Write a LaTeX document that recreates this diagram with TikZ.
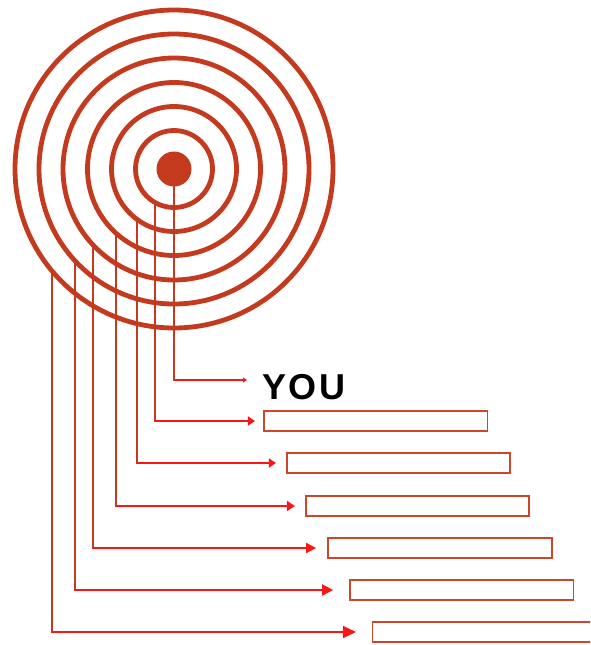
\documentclass[tikz,border=0pt]{standalone}
\usepackage{fontspec}
\setmainfont{Liberation Sans}
\usetikzlibrary{arrows.meta}
\definecolor{ringc}{RGB}{196,58,30}
\definecolor{arrc}{RGB}{248,22,22}
\definecolor{boxc}{RGB}{204,70,46}
\begin{document}
\begin{tikzpicture}[x=1pt,y=-1pt,
  ring/.style={circle,draw=ringc,line width=4.8pt,inner sep=0pt,outer sep=0pt,minimum size=#1},
  vline/.style={draw=ringc,line width=2.3pt,line cap=rect},
  harrow/.style 2 args={draw=arrc,line width=1.6pt,-{Triangle[length=#1pt,width=#2pt]}},
  blank/.style={rectangle,draw=boxc,line width=1.6pt,inner sep=0pt,minimum width=223.5pt,minimum height=19.5pt}]
\clip (0,0) rectangle (590,645);
% target rings
\node[ring=77pt]  (r1) at (174,169) {};
\node[ring=125pt] (r2) at (174,169) {};
\node[ring=173pt] (r3) at (174,169) {};
\node[ring=222pt] (r4) at (174,169) {};
\node[ring=270pt] (r5) at (174,169) {};
\node[ring=318pt] (r6) at (174,169) {};
\node[circle,fill=ringc,inner sep=0pt,outer sep=0pt,minimum size=35pt] (dot) at (174,169) {};
% label and boxes
\node[anchor=base west,inner sep=0pt,font=\bfseries\fontsize{36}{36}\selectfont] (you) at (262,399.5) {Y\kern2.5pt O\kern2.5pt U};
\node[blank] (b1) at (375.8,421) {};
\node[blank] (b2) at (398.5,463) {};
\node[blank] (b3) at (417.5,506) {};
\node[blank] (b4) at (440,548) {};
\node[blank] (b5) at (461.7,590) {};
\node[blank] (b6) at (484.2,632) {};
% corners
\coordinate (k0) at (174,380);
\coordinate (t0) at (247,380);
\coordinate (k1) at (r1.-119.57 |- b1.west);
\coordinate (k2) at (r2.-126.3 |- b2.west);
\coordinate (k3) at (r3.-132.1 |- b3.west);
\coordinate (k4) at (r4.-137.6 |- b4.west);
\coordinate (k5) at (r5.-137.8 |- b5.west);
\coordinate (k6) at (r6.-140.1 |- b6.west);
% vertical leaders
\draw[vline] (dot.south) -- (k0);
\draw[vline] (r1.-119.57) -- (k1);
\draw[vline] (r2.-126.3) -- (k2);
\draw[vline] (r3.-132.1) -- (k3);
\draw[vline] (r4.-137.6) -- (k4);
\draw[vline] (r5.-137.8) -- (k5);
\draw[vline] (r6.-140.1) -- (k6);
% horizontal arrows
\draw[harrow={4}{5}] (k0) -- (t0);
\draw[harrow={7}{9},shorten >=8.3pt] (k1) -- (b1.west);
\draw[harrow={7}{9},shorten >=10pt] (k2) -- (b2.west);
\draw[harrow={8}{10},shorten >=10pt] (k3) -- (b3.west);
\draw[harrow={10}{10},shorten >=11.3pt] (k4) -- (b4.west);
\draw[harrow={11}{11},shorten >=16pt] (k5) -- (b5.west);
\draw[harrow={13}{12},shorten >=15.7pt] (k6) -- (b6.west);
\end{tikzpicture}
\end{document}
